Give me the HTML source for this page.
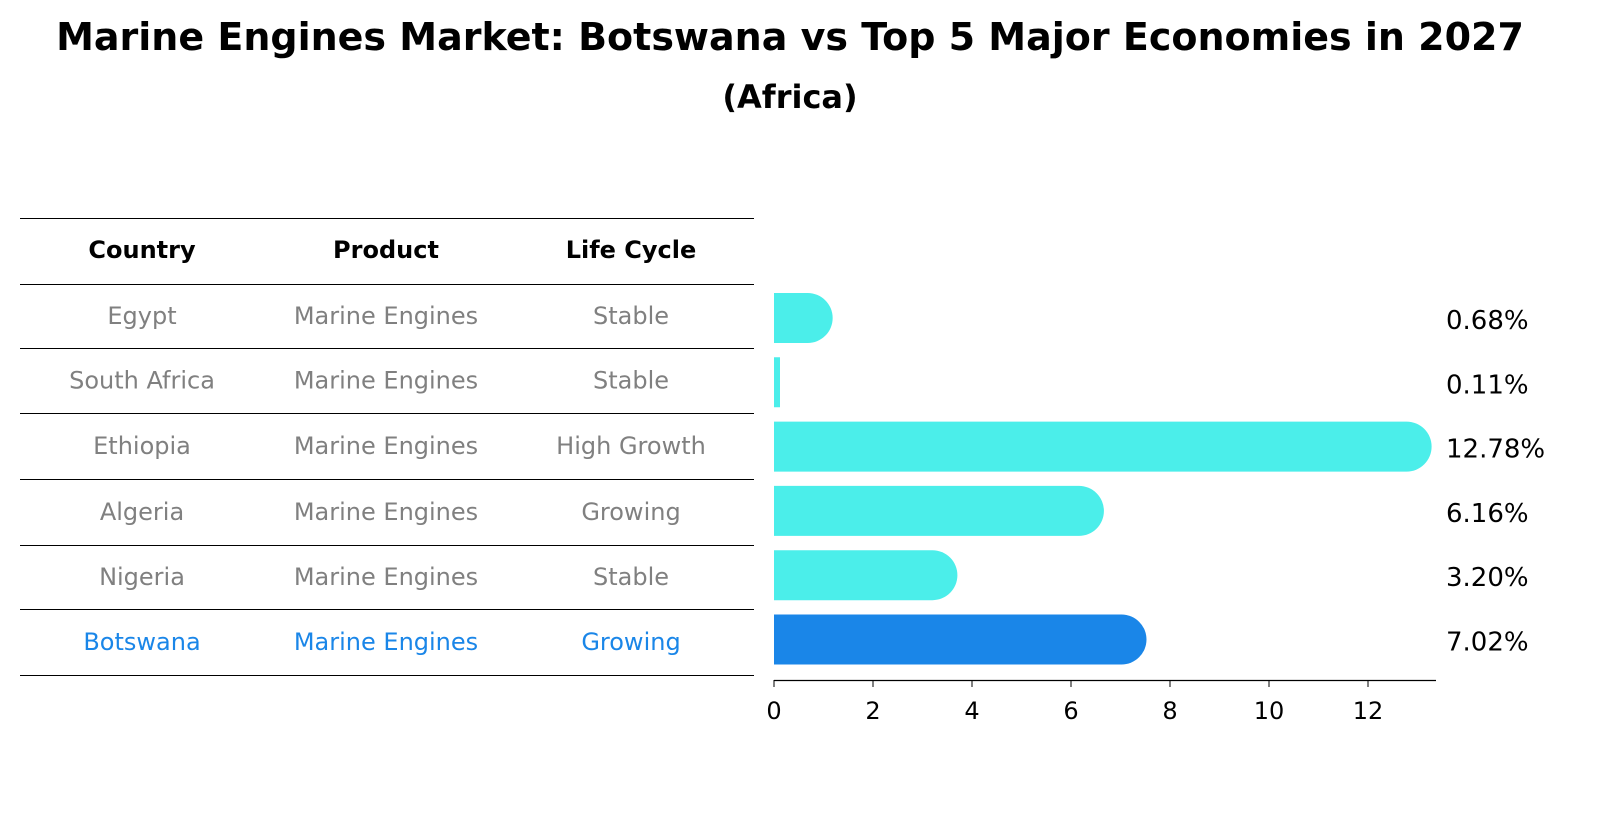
<!DOCTYPE html>
<html><head><meta charset="utf-8"><style>
body{margin:0;background:#fff;font-family:"Liberation Sans","DejaVu Sans",sans-serif;}
svg text{font-family:"DejaVu Sans","Liberation Sans",sans-serif;}
</style></head><body>
<svg id="c" width="1604" height="823" xmlns="http://www.w3.org/2000/svg">
<text x="790" y="50" text-anchor="middle" font-size="38" font-weight="bold">Marine Engines Market: Botswana vs Top 5 Major Economies in 2027</text>
<text x="790" y="108" text-anchor="middle" font-size="32" font-weight="bold">(Africa)</text>
<g id="tbl"></g>
<g id="bars"></g>
<g id="axis"></g>
</svg>
<script>
const countries=["Egypt","South Africa","Ethiopia","Algeria","Nigeria","Botswana"];
const products=["Marine Engines","Marine Engines","Marine Engines","Marine Engines","Marine Engines","Marine Engines"];
const lifecycles=["Stable","Stable","High Growth","Growing","Stable","Growing"];
const values=[0.68,0.11,12.78,6.16,3.20,7.02];
const valueLabels=["0.68%","0.11%","12.78%","6.16%","3.20%","7.02%"];
const ticks=[0,2,4,6,8,10,12];
const NS="http://www.w3.org/2000/svg";
function mk(t,a,p,txt){const e=document.createElementNS(NS,t);for(const k in a)e.setAttribute(k,a[k]);if(txt!==undefined)e.textContent=txt;p.appendChild(e);return e;}
const x0=774,ppu=49.5;const X=v=>x0+v*ppu;
const rowY=i=>318+i*64.3;
const tbl=document.getElementById('tbl');
const lines=[218,284,348,413,479,545,609,675];
lines.forEach((y,i)=>{const l=mk('line',{x1:20,x2:754,y1:y+0.5,y2:y+0.5,stroke:'#000','stroke-width':1,'shape-rendering':'crispEdges'},tbl);

});
const cols=[142,386,631];
["Country","Product","Life Cycle"].forEach((h,j)=>{const t=mk('text',{x:cols[j],y:258,'text-anchor':'middle','font-size':24,'font-weight':'bold'},tbl,h);

});
countries.forEach((c,i)=>{const col=i===5?'#1a86e8':'#808080';const y=(lines[i+1]+lines[i+2])/2+8;
[c,products[i],lifecycles[i]].forEach((s,j)=>{const t=mk('text',{x:cols[j],y:y,'text-anchor':'middle','font-size':24,fill:col},tbl,s);

});});
const bars=document.getElementById('bars');const r=25;
values.forEach((v,i)=>{const cy=rowY(i);const xe=X(v);const col=i===5?'#1a86e8':'#4beeea';
let d=`M${x0},${cy-r}H${xe}A${r},${r} 0 0 1 ${xe},${cy+r}H${x0}Z`;
if(v<0.2)d=`M${x0},${cy-r}h6v${2*r}h-6z`;
const p=mk('path',{d:d,fill:col},bars);


const t=mk('text',{x:1446,y:cy+11,'font-size':26},bars,valueLabels[i]);

});
const ax=document.getElementById('axis');
mk('line',{x1:x0,x2:1436,y1:680.5,y2:680.5,stroke:'#000','stroke-width':1.3},ax);
ticks.forEach(v=>{mk('line',{x1:X(v),x2:X(v),y1:680,y2:687,stroke:'#000'},ax);
const t=mk('text',{x:X(v),y:719,'text-anchor':'middle','font-size':24},ax,String(v));

});
</script>
</body></html>
